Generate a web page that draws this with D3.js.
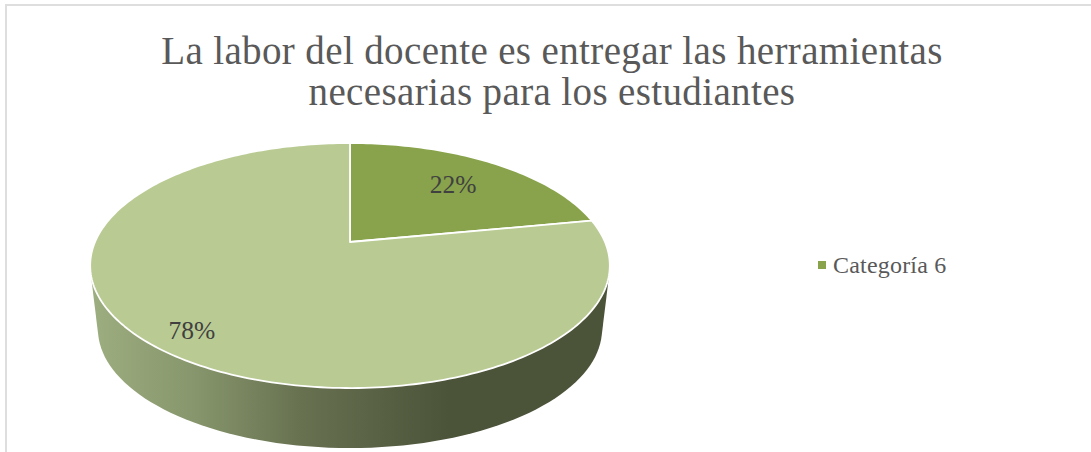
<!DOCTYPE html>
<html>
<head>
<meta charset="utf-8">
<script src="https://cdn.jsdelivr.net/npm/d3@7"></script>
<style>
  html, body { margin: 0; padding: 0; background: #fff; }
  svg { display: block; }
  text { font-family: "Liberation Serif", serif; }
</style>
</head>
<body>
<div id="chart"></div>
<script>
// data
const titleLines = ['La labor del docente es entregar las herramientas', 'necesarias para los estudiantes'];
const sliceNames = ['Categoría 6', ''];
const sliceValues = [22, 78];
const sliceColors = ['#88a34b', '#b9cb93'];
const labelRadius = [0.7, 0.85];
const wallStops = [
    [0, '#9dae80'], [0.2, '#87966c'], [0.4, '#687251'], [0.69, '#4b5339'], [1, '#4b5339']
];

const width = 1091, height = 452;

const svg = d3.select('#chart').append('svg')
    .attr('width', width)
    .attr('height', height);

// chart frame, its right and bottom edges are cut by the picture
svg.append('path')
    .attr('d', `M6,${height}V5H${width}`)
    .attr('fill', 'none')
    .attr('stroke', '#dedede')
    .attr('stroke-width', 2);

// title
svg.append('g').selectAll('text')
    .data(titleLines)
    .join('text')
    .attr('x', 552)
    .attr('y', (d, i) => 64 + i * 41)
    .attr('text-anchor', 'middle')
    .attr('font-size', 39)
    .attr('letter-spacing', 0.37)
    .attr('fill', '#595959')
    .text(d => d);

// perspective of the pie: unit circle -> screen
const persp = 0.192;
function project(angle, r, scale, cy) {
    const u = r * Math.sin(angle);
    const v = -r * Math.cos(angle);
    const w = 1 - persp * v;
    return [350 + scale * 255 * u / w, cy + scale * 118 * v / w];
}

const topY = 242;
const bottomY = 306.4;
const bottomScale = 0.97;

const pie = d3.pie().sort(null)(sliceValues);
const fullTurn = d3.range(0, 361, 2).map(d => d * Math.PI / 180);

// side wall
const defs = svg.append('defs');
defs.append('linearGradient')
    .attr('id', 'wall')
    .attr('gradientUnits', 'userSpaceOnUse')
    .attr('x1', 90).attr('x2', 610)
    .attr('y1', 0).attr('y2', 0)
    .selectAll('stop')
    .data(wallStops)
    .join('stop')
    .attr('offset', d => d[0])
    .attr('stop-color', d => d[1]);

const wallPoints = fullTurn.map(a => project(a, 1, 1, topY))
    .concat(fullTurn.map(a => project(a, 1, bottomScale, bottomY)));
svg.append('path')
    .attr('d', 'M' + d3.polygonHull(wallPoints).join('L') + 'Z')
    .attr('fill', 'url(#wall)');

// top slices
const line = d3.line();
function slicePath(d) {
    const steps = Math.ceil((d.endAngle - d.startAngle) / 0.02);
    const rim = d3.range(steps + 1).map(i =>
        project(d.startAngle + (d.endAngle - d.startAngle) * i / steps, 1, 1, topY));
    return line([project(0, 0, 1, topY), ...rim]) + 'Z';
}

svg.append('g').selectAll('path')
    .data(pie)
    .join('path')
    .attr('d', slicePath)
    .attr('fill', (d, i) => sliceColors[i])
    .attr('stroke', '#fff')
    .attr('stroke-width', 1.8)
    .attr('stroke-linejoin', 'round');

// value labels
const total = d3.sum(sliceValues);
svg.append('g').selectAll('text')
    .data(pie)
    .join('text')
    .attr('transform', (d, i) => {
        const mid = (d.startAngle + d.endAngle) / 2;
        return `translate(${project(mid, labelRadius[i], 1, topY)})`;
    })
    .attr('text-anchor', 'middle')
    .attr('dy', '0.35em')
    .attr('font-size', 25.5)
    .attr('fill', '#404040')
    .text(d => Math.round(d.value / total * 100) + '%');

// legend, only the first slice has a name
const legend = svg.append('g').attr('transform', 'translate(818,265)');
legend.append('rect')
    .attr('x', 0).attr('y', -4)
    .attr('width', 8).attr('height', 8)
    .attr('fill', sliceColors[0]);
legend.append('text')
    .attr('x', 15)
    .attr('dy', '0.33em')
    .attr('font-size', 24)
    .attr('letter-spacing', 0.2)
    .attr('fill', '#595959')
    .text(sliceNames[0]);
</script>
</body>
</html>
